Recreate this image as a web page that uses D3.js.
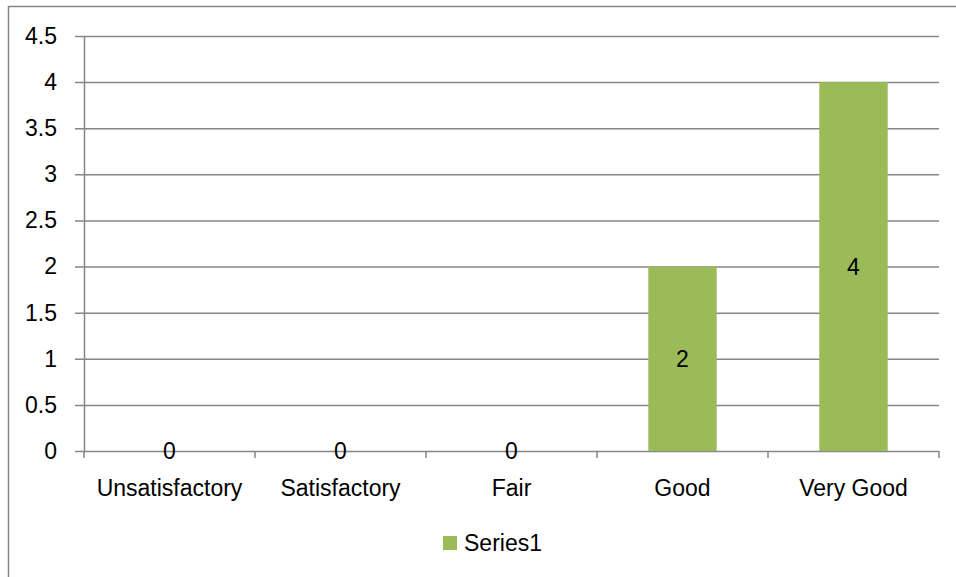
<!DOCTYPE html>
<html>
<head>
<meta charset="utf-8">
<script src="https://cdn.jsdelivr.net/npm/d3@7"></script>
<style>
  body { margin: 0; background: #fff; }
  text { font-family: "Liberation Sans", Arial, sans-serif; }
</style>
</head>
<body>
<div id="output"></div>
<script>
const categories = ["Unsatisfactory", "Satisfactory", "Fair", "Good", "Very Good"];
const series1 = [0, 0, 0, 2, 4];
const yTicks = [0, 0.5, 1, 1.5, 2, 2.5, 3, 3.5, 4, 4.5];
const seriesName = "Series1";

const green = "#9bbb59";
const gridColor = "#868686";

function draw() {
    const W = 956, H = 577;
    const left = 84, right = 939, top = 36, bottom = 451;
    const fontSize = "23px";

    let svg = d3.select("#output").append("svg").attr("width", W).attr("height", H);

    // outer chart border
    svg.append("rect")
        .attr("x", 8.5).attr("y", 6.5)
        .attr("width", W).attr("height", H)
        .style("fill", "none")
        .style("stroke", gridColor)
        .style("stroke-width", 1.5);

    const x = d3.scaleBand().domain(categories).range([left, right]).paddingInner(0.6).paddingOuter(0.3);
    const xb = d3.scaleBand().domain(categories).range([left, right]);
    const y = d3.scaleLinear().domain([0, 4.5]).range([bottom, top]);

    // y axis + gridlines
    let ya = svg.append("g")
        .attr("transform", `translate(${left},0)`)
        .call(d3.axisLeft(y).tickValues(yTicks).tickFormat(d3.format("")).tickSize(9).tickPadding(18));
    ya.select(".domain").style("stroke", gridColor).style("stroke-width", 1.5)
        .attr("d", `M0.5,${top}V${bottom}`);
    ya.selectAll(".tick line")
        .attr("x1", -9).attr("x2", right - left)
        .style("stroke", gridColor).style("stroke-width", 1.5);
    ya.selectAll(".tick text")
        .style("font-size", fontSize).style("fill", "#000")
        .style("font-family", "Liberation Sans, Arial, sans-serif");

    // x axis ticks at category boundaries
    const bounds = categories.map(c => xb(c)).concat([right]);
    svg.append("g").selectAll("line").data(bounds).join("line")
        .attr("x1", d => d).attr("x2", d => d)
        .attr("y1", bottom).attr("y2", bottom + 7)
        .style("stroke", gridColor).style("stroke-width", 1.5);

    svg.append("g").selectAll("text").data(categories).join("text")
        .attr("x", d => xb(d) + xb.bandwidth() / 2)
        .attr("y", bottom + 45)
        .style("text-anchor", "middle")
        .style("font-size", fontSize)
        .text(d => d);

    // bars
    svg.append("g").selectAll("rect").data(series1).join("rect")
        .attr("x", (d, i) => x(categories[i]))
        .attr("width", x.bandwidth())
        .attr("y", d => y(d))
        .attr("height", d => y(0) - y(d))
        .style("fill", green);

    // data labels
    svg.append("g").selectAll("text").data(series1).join("text")
        .attr("x", (d, i) => x(categories[i]) + x.bandwidth() / 2)
        .attr("y", d => (y(0) + y(d)) / 2)
        .attr("dy", "0.35em")
        .style("text-anchor", "middle")
        .style("font-size", fontSize)
        .text(d => d);

    // legend
    let lg = svg.append("g");
    lg.append("rect")
        .attr("x", 443).attr("y", 536)
        .attr("width", 14).attr("height", 14)
        .style("fill", green);
    lg.append("text")
        .attr("x", 464).attr("y", 543)
        .attr("dy", "0.35em")
        .style("font-size", fontSize)
        .text(seriesName);
}

draw();
</script>
</body>
</html>
